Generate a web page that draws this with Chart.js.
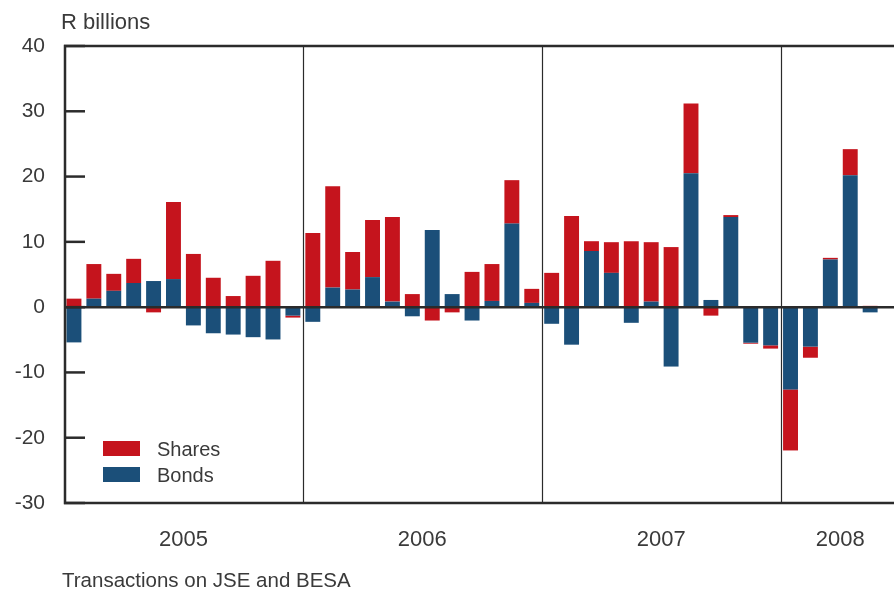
<!DOCTYPE html>
<html>
<head>
<meta charset="utf-8">
<script src="https://cdn.jsdelivr.net/npm/chart.js@4.4.1/dist/chart.umd.min.js"></script>
<style>
  html, body { margin: 0; padding: 0; background: #fff; }
  #wrap { position: relative; width: 894px; height: 592px; overflow: hidden; }
  #chart { position: absolute; left: 0; top: 0; }
  .note { position: absolute; font-family: 'Liberation Sans', Arial, sans-serif; color: #3a3a3a; white-space: nowrap; line-height: 1; }
</style>
</head>
<body>
<div id="wrap">
  <canvas id="chart" width="910" height="592"></canvas>
  <div class="note" style="left:61px; top:11px; font-size:22px;">R billions</div>
  <div class="note" style="left:62px; top:570px; font-size:20.5px;">Transactions on JSE and BESA</div>
</div>
<script>
// Monthly net purchases by non-residents, R billions
const months = [
  '2005-01', '2005-02', '2005-03', '2005-04', '2005-05', '2005-06',
  '2005-07', '2005-08', '2005-09', '2005-10', '2005-11', '2005-12',
  '2006-01', '2006-02', '2006-03', '2006-04', '2006-05', '2006-06',
  '2006-07', '2006-08', '2006-09', '2006-10', '2006-11', '2006-12',
  '2007-01', '2007-02', '2007-03', '2007-04', '2007-05', '2007-06',
  '2007-07', '2007-08', '2007-09', '2007-10', '2007-11', '2007-12',
  '2008-01', '2008-02', '2008-03', '2008-04', '2008-05', '2008-06'
];

const bonds = [
  -5.4, 1.3, 2.5, 3.7, 4.0, 4.3, -2.8, -4.0, -4.2, -4.6, -4.95, -1.3,
  -2.25, 3.0, 2.7, 4.6, 0.85, -1.4, 11.8, 2.0, -2.05, 0.95, 12.8, 0.65,
  -2.55, -5.75, 8.6, 5.25, -2.4, 0.85, -9.1, 20.5, 1.1, 13.8, -5.45, -5.85,
  -12.6, -6.05, 7.3, 20.2, -0.8, null
];

const shares = [
  1.3, 5.3, 2.6, 3.7, -0.8, 11.8, 8.15, 4.5, 1.7, 4.8, 7.1, -0.3,
  11.35, 15.5, 5.75, 8.75, 12.95, 2.0, -2.05, -0.8, 5.4, 5.65, 6.65, 2.15,
  5.25, 13.95, 1.5, 4.7, 10.1, 9.1, 9.2, 10.7, -1.3, 0.3, -0.15, -0.5,
  -9.35, -1.7, 0.25, 4.0, 0.2, null
];

const years = ['2005', '2006', '2007', '2008'];
const yTicks = [40, 30, 20, 10, 0, -10, -20, -30];

const RED = '#c5141d';
const BLUE = '#1b4f79';
const INK = '#2b2b2b';
const FONT = "'Liberation Sans', Arial, sans-serif";

// year label sits in the middle of its months, separators between years
const yearStart = years.map(yr => months.findIndex(m => m.startsWith(yr)));
const yearCount = years.map(yr => months.filter(m => m.startsWith(yr)).length);
const yearCenters = years.map((yr, i) => yearStart[i] + yearCount[i] / 2);

const framePlugin = {
  id: 'frame',
  afterDatasetsDraw(chart) {
    const { ctx, chartArea: a, scales } = chart;
    const x = scales.x;
    const y = scales.y;
    ctx.save();
    ctx.strokeStyle = INK;

    // year separators
    ctx.lineWidth = 1.2;
    yearStart.slice(1).forEach(i => {
      const px = Math.round((x.getPixelForValue(i - 1) + x.getPixelForValue(i)) / 2) + 0.5;
      ctx.beginPath();
      ctx.moveTo(px, a.top);
      ctx.lineTo(px, a.bottom);
      ctx.stroke();
    });

    // zero line
    ctx.lineWidth = 2.5;
    const y0 = y.getPixelForValue(0);
    ctx.beginPath();
    ctx.moveTo(a.left, y0);
    ctx.lineTo(a.right, y0);
    ctx.stroke();

    // ticks point inward
    yTicks.forEach(v => {
      const py = y.getPixelForValue(v);
      ctx.beginPath();
      ctx.moveTo(a.left, py);
      ctx.lineTo(a.left + 21, py);
      ctx.stroke();
    });

    // frame: top, left, bottom
    ctx.beginPath();
    ctx.moveTo(a.right + 20, a.top);
    ctx.lineTo(a.left + 1, a.top);
    ctx.lineTo(a.left + 1, a.bottom);
    ctx.lineTo(a.right + 20, a.bottom);
    ctx.stroke();

    // legend, shares listed first
    const items = chart.data.datasets.slice().reverse();
    ctx.font = '20px ' + FONT;
    ctx.textBaseline = 'alphabetic';
    ctx.textAlign = 'left';
    items.forEach((ds, k) => {
      const base = 456 + k * 26;
      ctx.fillStyle = ds.backgroundColor;
      ctx.fillRect(103, base - 15, 37, 15);
      ctx.fillStyle = '#3a3a3a';
      ctx.fillText(ds.label, 157, base);
    });

    ctx.restore();
  }
};

new Chart(document.getElementById('chart'), {
  type: 'bar',
  data: {
    labels: months,
    datasets: [
      { label: 'Bonds', data: bonds, backgroundColor: BLUE },
      { label: 'Shares', data: shares, backgroundColor: RED }
    ]
  },
  options: {
    responsive: false,
    animation: false,
    devicePixelRatio: 1,
    barPercentage: 0.75,
    categoryPercentage: 1.0,
    layout: { padding: { top: 46, right: 10, bottom: 0, left: 0 } },
    plugins: {
      legend: { display: false },
      tooltip: { enabled: false }
    },
    scales: {
      x: {
        type: 'category',
        stacked: true,
        display: false
      },
      years: {
        type: 'linear',
        position: 'bottom',
        offset: false,
        min: 0,
        max: months.length,
        grid: { display: false, drawTicks: false, offset: false },
        border: { display: false },
        afterBuildTicks: axis => { axis.ticks = yearCenters.map(v => ({ value: v })); },
        afterFit: s => { s.height = 89; },
        ticks: {
          autoSkip: false,
          maxRotation: 0,
          padding: 24,
          color: '#3a3a3a',
          font: { family: FONT, size: 22 },
          callback: v => years[yearCenters.indexOf(v)]
        }
      },
      y: {
        stacked: true,
        position: 'left',
        min: Math.min(...yTicks),
        max: Math.max(...yTicks),
        grid: { display: false, drawTicks: false },
        border: { display: false },
        afterFit: s => { s.width = 64; },
        ticks: {
          stepSize: 10,
          padding: 19,
          color: '#3a3a3a',
          font: { family: FONT, size: 21 }
        }
      }
    }
  },
  plugins: [framePlugin]
});
</script>
</body>
</html>
